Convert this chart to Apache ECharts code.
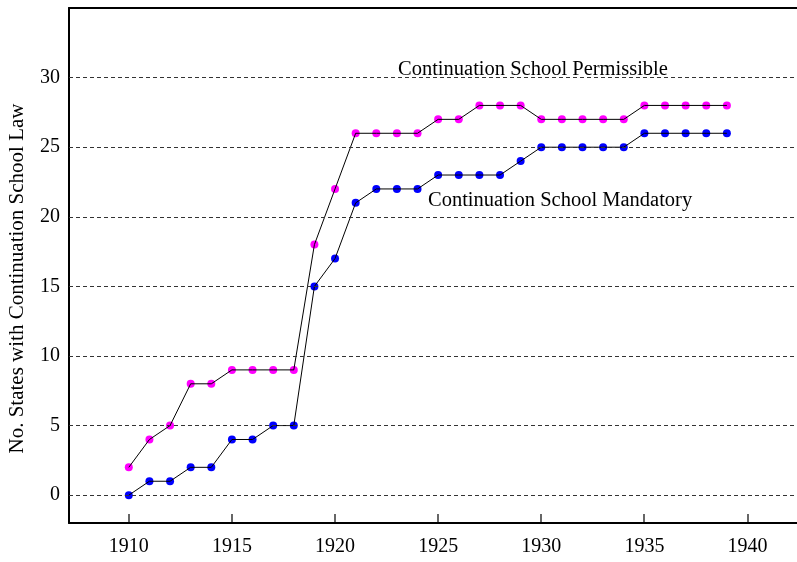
<!DOCTYPE html>
<html>
<head>
<meta charset="utf-8">
<script src="https://cdn.jsdelivr.net/npm/echarts@6/dist/echarts.min.js"></script>
<style>
  html, body { margin: 0; padding: 0; background: #fff; }
  #chart { width: 797px; height: 562px; }
</style>
</head>
<body>
<div id="chart"></div>
<script>
// years
var years = [1910,1911,1912,1913,1914,1915,1916,1917,1918,1919,1920,1921,1922,1923,1924,
             1925,1926,1927,1928,1929,1930,1931,1932,1933,1934,1935,1936,1937,1938,1939];
// continuation school permissible
var permissible = [2,4,5,8,8,9,9,9,9,18,22,26,26,26,26,27,27,28,28,28,27,27,27,27,27,28,28,28,28,28];
// continuation school mandatory
var mandatory = [0,1,1,2,2,4,4,5,5,15,17,21,22,22,22,23,23,23,23,24,25,25,25,25,25,26,26,26,26,26];
var xTicks = [1910,1915,1920,1925,1930,1935,1940];
var yTicks = [0,5,10,15,20,25,30];

var font = '"Liberation Serif", "DejaVu Serif", serif';
var yMin = -2, yMax = 35;

function pairs(vals){
    var out = [];
    for(var i=0;i<years.length;i++){
        out.push([years[i], vals[i]]);
    }
    return out;
}

var myChart = echarts.init(document.getElementById('chart'));

var option = {
    animation: false,
    backgroundColor: '#fff',
    grid: {
        left: 69,
        right: 0,
        top: 8,
        bottom: 39,
        outerBoundsMode: 'none',
        containLabel: false
    },
    xAxis: [{
        type: 'value',
        min: 1907.1,
        max: 1942.4,
        axisLine: { show: true, onZero: false, lineStyle: { color: '#000', width: 2 } },
        axisTick: { show: false },
        axisLabel: { customValues: xTicks, formatter: function(v){ return String(v); }, color: '#000', fontFamily: font, fontSize: 20, margin: 14 },
        splitLine: { show: false }
    }, {
        type: 'value',
        position: 'top',
        min: 1907.1,
        max: 1942.4,
        axisLine: { show: true, onZero: false, lineStyle: { color: '#000', width: 2 } },
        axisTick: { show: false },
        axisLabel: { show: false },
        splitLine: { show: false }
    }],
    yAxis: {
        type: 'value',
        min: yMin,
        max: yMax,
        name: 'No. States with Continuation School Law',
        nameLocation: 'middle',
        nameGap: 41,
        nameTextStyle: { color: '#000', fontFamily: font, fontSize: 21, padding: [0, 26, 0, 0] },
        axisLine: { show: true, onZero: false, lineStyle: { color: '#000', width: 2 } },
        axisTick: { show: false },
        axisLabel: { customValues: yTicks, color: '#000', fontFamily: font, fontSize: 20, margin: 9 },
        splitLine: { show: false }
    },
    series: [
        {
            // dashed grid lines
            type: 'line',
            data: [],
            silent: true,
            markLine: {
                symbol: 'none',
                silent: true,
                label: { show: false },
                lineStyle: { color: '#333', width: 1, type: [4, 3] },
                data: yTicks.map(function(v){ return { yAxis: v }; })
            }
        },
        {
            name: 'Permissible pts',
            type: 'scatter',
            symbolSize: 8,
            z: 2,
            itemStyle: { color: '#ff00ff', opacity: 1 },
            data: pairs(permissible)
        },
        {
            name: 'Mandatory pts',
            type: 'scatter',
            symbolSize: 8,
            z: 2,
            itemStyle: { color: '#0000ff', opacity: 1 },
            data: pairs(mandatory)
        },
        {
            name: 'Permissible',
            type: 'line',
            showSymbol: false,
            symbol: 'none',
            z: 3,
            lineStyle: { color: '#000', width: 1 },
            data: pairs(permissible)
        },
        {
            name: 'Mandatory',
            type: 'line',
            showSymbol: false,
            symbol: 'none',
            z: 3,
            lineStyle: { color: '#000', width: 1 },
            data: pairs(mandatory)
        }
    ],
    graphic: [
        {
            type: 'text',
            left: 398,
            top: 59,
            style: { text: 'Continuation School Permissible', fill: '#000', font: '20.5px ' + font }
        },
        {
            type: 'text',
            left: 428,
            top: 190,
            style: { text: 'Continuation School Mandatory', fill: '#000', font: '20.5px ' + font }
        }
    ]
};

myChart.setOption(option);

// x tick marks pointing inward from the bottom axis, placed through the axis scale
var tickGraphics = xTicks.map(function(v, i){
    var p = myChart.convertToPixel('grid', [v, yMin]);
    return {
        type: 'rect',
        id: 'xtick' + i,
        z: 100,
        silent: true,
        shape: { x: Math.round(p[0]) - 0.6, y: p[1] - 9, width: 1.2, height: 9 },
        style: { fill: '#000' }
    };
});
myChart.setOption({ graphic: tickGraphics });
</script>
</body>
</html>
